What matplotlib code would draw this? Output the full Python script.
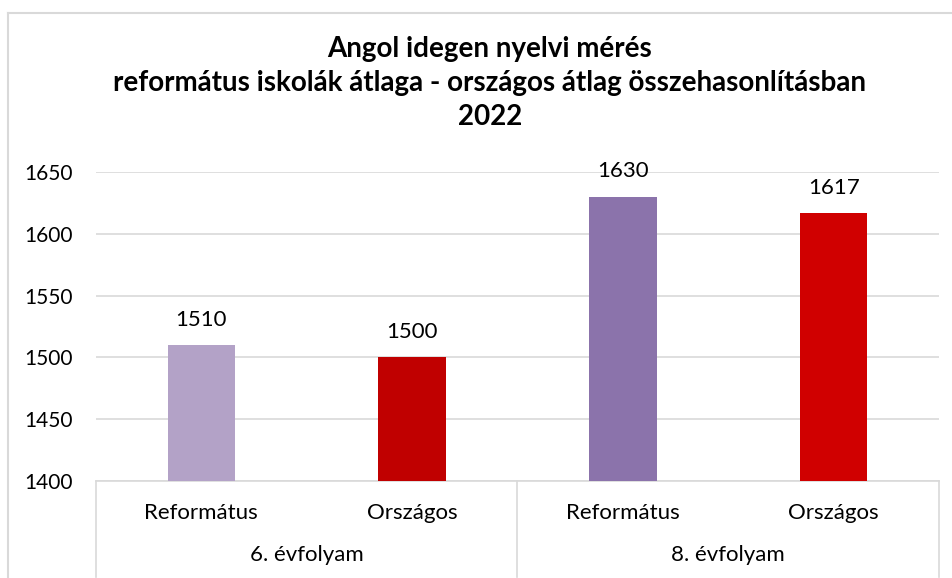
import matplotlib
matplotlib.use('Agg')
import matplotlib.pyplot as plt
from matplotlib.lines import Line2D
import numpy as np

plt.rcParams['font.family'] = ['Lato', 'DejaVu Sans']

title = 'Angol idegen nyelvi mérés\nreformátus iskolák átlaga - országos átlag összehasonlításban\n2022'
categories = ['Református', 'Országos', 'Református', 'Országos']
groups = ['6. évfolyam', '8. évfolyam']
values = [1510, 1500, 1630, 1617]
colors = ['#B3A2C7', '#C00000', '#8B73AB', '#D00000']
yticks = [1400, 1450, 1500, 1550, 1600, 1650]

grid_c = '#D9D9D9'

fig = plt.figure(figsize=(9.53, 5.78), dpi=100)
ax = fig.add_axes([96 / 953, 97 / 578, 843 / 953, 309 / 578])

x = np.arange(len(values))
bars = ax.bar(x, values, 0.32, color=colors, zorder=3)
for b, v in zip(bars, values):
    ax.annotate(str(v), (b.get_x() + b.get_width() / 2, v), xytext=(0, 11),
                textcoords='offset points', ha='center', va='bottom', fontsize=16)

ax.set_xlim(-0.5, len(values) - 0.5)
ax.set_ylim(1400, 1650)
ax.set_yticks(yticks)
ax.tick_params(axis='y', length=0, pad=17, labelsize=15)
ax.set_xticks([])
ax.grid(axis='y', color=grid_c, linewidth=1.2, zorder=0)
for s in ['top', 'right', 'left']:
    ax.spines[s].set_visible(False)
ax.spines['bottom'].set_color(grid_c)
ax.spines['bottom'].set_linewidth(1.2)

# category and group labels under the axis
tr = ax.get_xaxis_transform()
for xi, lab in zip(x, categories):
    ax.text(xi, -0.104, lab, transform=tr, ha='center', va='center', fontsize=16)
for gi, g in enumerate(groups):
    ax.text(gi * 2 + 0.5, -0.239, g, transform=tr, ha='center', va='center', fontsize=16)
for sx in [-0.5, 1.5, 3.5]:
    ax.add_line(Line2D([sx, sx], [0, -0.31], transform=tr, color=grid_c,
                       linewidth=1.2, clip_on=False))

fig.text(490 / 953, 1 - 83 / 578, title, ha='center', va='center', fontsize=20,
         fontweight='bold', linespacing=1.4)

# chart frame (cropped on right and bottom)
fig.add_artist(Line2D([8.5 / 953, 8.5 / 953], [0, 1 - 12.5 / 578], transform=fig.transFigure,
                      color=grid_c, linewidth=1.5))
fig.add_artist(Line2D([8.5 / 953, 1], [1 - 12.5 / 578, 1 - 12.5 / 578], transform=fig.transFigure,
                      color=grid_c, linewidth=1.5))

plt.savefig('out.png', dpi=100)
